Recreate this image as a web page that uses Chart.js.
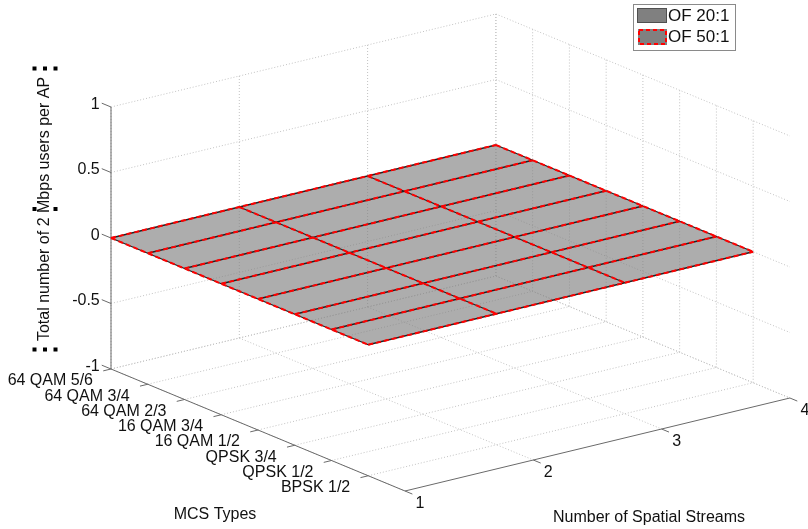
<!DOCTYPE html>
<html>
<head>
<meta charset="utf-8">
<script src="https://cdn.jsdelivr.net/npm/chart.js@4.4.1/dist/chart.umd.min.js"></script>
<style>
  html, body { margin: 0; padding: 0; background: #fff; }
  #wrap { width: 808px; height: 529px; }
</style>
</head>
<body>
<div id="wrap"><canvas id="chart" width="808" height="529"></canvas></div>
<script>
var mcsLabels = ['64 QAM 5/6', '64 QAM 3/4', '64 QAM 2/3', '16 QAM 3/4', '16 QAM 1/2', 'QPSK 3/4', 'QPSK 1/2', 'BPSK 1/2'];
var streamTicks = [1, 2, 3, 4];
var zTicks = [-1, -0.5, 0, 0.5, 1];
var zTickLabels = ['-1', '-0.5', '0', '0.5', '1'];
// rows = MCS types, columns = number of spatial streams
var users20 = [
	[0, 0, 0, 0], [0, 0, 0, 0], [0, 0, 0, 0], [0, 0, 0, 0],
	[0, 0, 0, 0], [0, 0, 0, 0], [0, 0, 0, 0], [0, 0, 0, 0]
];
var users50 = [
	[0, 0, 0, 0], [0, 0, 0, 0], [0, 0, 0, 0], [0, 0, 0, 0],
	[0, 0, 0, 0], [0, 0, 0, 0], [0, 0, 0, 0], [0, 0, 0, 0]
];
var seriesNames = ['OF 20:1', 'OF 50:1'];

// orthographic view of the 3d box (units of the hidden 2d scales)
var view = { ox: 111, oy: 369, mx: 36.75, my: 15.25, sx: 128.3, sy: -31, zy: -131 };
var mcsMax = mcsLabels.length;          // box runs one step past the last MCS
var zMin = zTicks[0], zMax = zTicks[zTicks.length - 1];
var sMin = streamTicks[0], sMax = streamTicks[streamTicks.length - 1];

function proj(i, s, z) {
	return {
		x: view.ox + i * view.mx + (s - sMin) * view.sx,
		y: view.oy + i * view.my + (s - sMin) * view.sy + (z - zMin) * view.zy
	};
}
var GAP = { x: null, y: null };
function seg(arr, a, b) { arr.push(a, b, GAP); }
function unit(x, y, len) { var d = Math.sqrt(x * x + y * y); return { x: x / d * len, y: y / d * len }; }

// grid lines on floor and two back walls
var gridPts = [];
mcsLabels.forEach(function (l, i) {
	seg(gridPts, proj(i, sMin, zMin), proj(i, sMax, zMin));
	seg(gridPts, proj(i, sMax, zMin), proj(i, sMax, zMax));
});
streamTicks.forEach(function (s) {
	seg(gridPts, proj(0, s, zMin), proj(mcsMax, s, zMin));
	seg(gridPts, proj(0, s, zMin), proj(0, s, zMax));
});
zTicks.forEach(function (z) {
	seg(gridPts, proj(0, sMin, z), proj(0, sMax, z));
	seg(gridPts, proj(0, sMax, z), proj(mcsMax, sMax, z));
});

// axis lines and ticks
var axisPts = [];
seg(axisPts, proj(0, sMin, zMin), proj(mcsMax, sMin, zMin));
seg(axisPts, proj(mcsMax, sMin, zMin), proj(mcsMax, sMax, zMin));
seg(axisPts, proj(0, sMin, zMin), proj(0, sMin, zMax));
var tickM = unit(-view.sx, -view.sy, 8);
var tickS = unit(view.mx, view.my, 8);
var tickZ = unit(-view.mx, -view.my, 10);
function off(p, d) { return { x: p.x + d.x, y: p.y + d.y }; }
mcsLabels.forEach(function (l, i) { var p = proj(i, sMin, zMin); seg(axisPts, p, off(p, tickM)); });
streamTicks.forEach(function (s) { var p = proj(mcsMax, s, zMin); seg(axisPts, p, off(p, tickS)); });
zTicks.forEach(function (z) { var p = proj(0, sMin, z); seg(axisPts, p, off(p, tickZ)); });

function surfaceEdges(vals) {
	var pts = [];
	vals.forEach(function (row, i) {
		row.forEach(function (v, j) { pts.push(proj(i, streamTicks[j], v)); });
		pts.push(GAP);
	});
	streamTicks.forEach(function (s, j) {
		vals.forEach(function (row, i) { pts.push(proj(i, s, row[j])); });
		pts.push(GAP);
	});
	return pts;
}
function surfaceOutline(vals) {
	var n = vals.length - 1, m = streamTicks.length - 1, pts = [], j, i;
	for (j = 0; j <= m; j++) pts.push(proj(0, streamTicks[j], vals[0][j]));
	for (i = 1; i <= n; i++) pts.push(proj(i, streamTicks[m], vals[i][m]));
	for (j = m - 1; j >= 0; j--) pts.push(proj(n, streamTicks[j], vals[n][j]));
	for (i = n - 1; i >= 0; i--) pts.push(proj(i, streamTicks[0], vals[i][0]));
	return pts;
}

var faceColor = 'rgba(128,128,128,0.40)';
var base = { showLine: true, pointRadius: 0, pointHoverRadius: 0, fill: false, tension: 0, spanGaps: false };
function ds(o) { return Object.assign({}, base, o); }

var datasets = [
	ds({ label: 'grid', data: gridPts, borderColor: '#c2c2c2', borderWidth: 1, borderDash: [1, 2], order: 10 }),
	ds({ label: 'axes', data: axisPts, borderColor: '#6a6a6a', borderWidth: 1, order: 9 }),
	ds({ label: seriesNames[0] + ' face', data: surfaceOutline(users20), borderWidth: 0, borderColor: 'rgba(0,0,0,0)', backgroundColor: faceColor, fill: 'shape', order: 8 }),
	ds({ label: seriesNames[1] + ' face', data: surfaceOutline(users50), borderWidth: 0, borderColor: 'rgba(0,0,0,0)', backgroundColor: faceColor, fill: 'shape', order: 7 }),
	ds({ label: seriesNames[0], data: surfaceEdges(users20), borderColor: '#222', borderWidth: 1.3, order: 6 }),
	ds({ label: seriesNames[1], data: surfaceEdges(users50), borderColor: '#ff0000', borderWidth: 2, borderDash: [5, 3], order: 5 })
];

var textPlugin = {
	id: 'axisText',
	afterDraw: function (chart) {
		var ctx = chart.ctx, xs = chart.scales.x, ys = chart.scales.y;
		function px(p) { return { x: xs.getPixelForValue(p.x), y: ys.getPixelForValue(p.y) }; }
		ctx.save();
		ctx.fillStyle = '#111';
		ctx.font = '16px "Liberation Sans", Arial, sans-serif';

		// MCS tick labels
		ctx.textAlign = 'right';
		ctx.textBaseline = 'middle';
		mcsLabels.forEach(function (l, i) {
			var p = px(proj(i, sMin, zMin));
			ctx.fillText(l, p.x - 18, p.y + 12);
		});
		// stream tick labels
		ctx.textAlign = 'center';
		streamTicks.forEach(function (s) {
			var p = px(proj(mcsMax, s, zMin));
			ctx.fillText(String(s), p.x + 15, p.y + 13);
		});
		// z tick labels
		ctx.textAlign = 'right';
		zTicks.forEach(function (z, k) {
			var p = px(off(proj(0, sMin, z), tickZ));
			ctx.fillText(zTickLabels[k], p.x - 2, p.y + 1);
		});

		// axis titles
		ctx.textAlign = 'center';
		ctx.fillText('MCS Types', 215, 515);
		ctx.fillText('Number of Spatial Streams', 649, 518);
		var zTitle = 'Total number of 2 Mbps users per AP';
		ctx.save();
		ctx.translate(45, 209);
		ctx.rotate(-Math.PI / 2);
		ctx.fillText(zTitle, 0, 0);
		// selection handles around the title box
		var hw = 140.5, hh = 10.5;
		ctx.fillStyle = '#000';
		[[-hw, -hh], [0, -hh], [hw, -hh], [-hw, hh], [0, hh], [hw, hh], [-hw, 0], [hw, 0]].forEach(function (h) {
			ctx.fillRect(h[0] - 2, h[1] - 2, 4, 4);
		});
		ctx.restore();

		// legend
		ctx.fillStyle = '#fff';
		ctx.fillRect(633, 4, 102, 46);
		ctx.strokeStyle = '#8a8a8a';
		ctx.lineWidth = 1;
		ctx.strokeRect(633.5, 4.5, 102, 46);
		ctx.fillStyle = '#808080';
		ctx.fillRect(637, 8, 30, 15);
		ctx.strokeStyle = '#505050';
		ctx.strokeRect(637.5, 8.5, 29, 14);
		ctx.fillRect(638, 29, 29, 16);
		ctx.strokeStyle = '#ff0000';
		ctx.lineWidth = 2;
		ctx.setLineDash([4, 3]);
		ctx.strokeRect(639, 30, 27, 14);
		ctx.setLineDash([]);
		ctx.fillStyle = '#111';
		ctx.textAlign = 'left';
		ctx.font = '17px "Liberation Sans", Arial, sans-serif';
		ctx.fillText(seriesNames[0], 668, 16);
		ctx.fillText(seriesNames[1], 668, 37);
		ctx.restore();
	}
};

new Chart(document.getElementById('chart'), {
	type: 'scatter',
	data: { datasets: datasets },
	options: {
		responsive: false,
		animation: false,
		layout: { padding: 0 },
		scales: {
			x: { type: 'linear', min: 0, max: 808, display: false },
			y: { type: 'linear', min: 0, max: 529, reverse: true, display: false }
		},
		plugins: {
			legend: { display: false },
			tooltip: { enabled: false }
		}
	},
	plugins: [textPlugin]
});
</script>
</body>
</html>
